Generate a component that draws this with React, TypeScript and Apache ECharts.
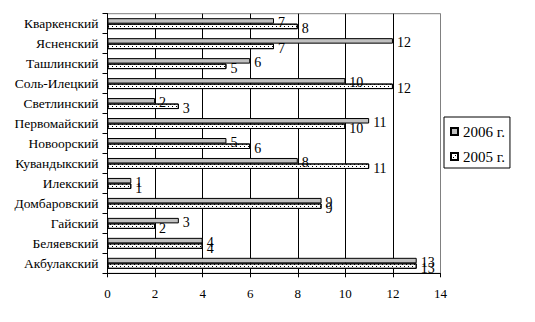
import React, { useEffect, useRef } from "react";
import * as echarts from "echarts";

const categories = [
  "Кваркенский",
  "Ясненский",
  "Ташлинский",
  "Соль-Илецкий",
  "Светлинский",
  "Первомайский",
  "Новоорский",
  "Кувандыкский",
  "Илекский",
  "Домбаровский",
  "Гайский",
  "Беляевский",
  "Акбулакский",
];

const values2006 = [7, 12, 6, 10, 2, 11, 5, 8, 1, 9, 3, 4, 13];
const values2005 = [8, 7, 5, 12, 3, 10, 6, 11, 1, 9, 2, 4, 13];

const xTicks = { min: 0, max: 14, interval: 2 };

const FONT = "Liberation Serif";

export default function App() {
  const ref = useRef<HTMLDivElement>(null);

  useEffect(() => {
    if (!ref.current) return;
    const chart = echarts.init(ref.current, null, { renderer: "svg" });

    const valueLabel = {
      show: true,
      position: "right",
      distance: 4,
      offset: [0, 2],
      color: "#000",
      fontFamily: FONT,
      fontSize: 14,
    };

    chart.setOption({
      animation: false,
      backgroundColor: "#fff",
      textStyle: { fontFamily: FONT },
      grid: {
        left: 107.5,
        right: 94.5,
        top: 13.7,
        bottom: 48.7,
        show: true,
        borderColor: "#808080",
        borderWidth: 1,
        backgroundColor: "transparent",
      },
      legend: {
        orient: "vertical",
        left: 444,
        top: 117,
        data: ["2006 г.", "2005 г."],
        itemWidth: 7,
        itemHeight: 7,
        itemGap: 10,
        itemTextGap: 6,
        padding: [7, 5, 4, 6],
        borderColor: "#000",
        borderWidth: 1,
        icon: "rect",
        textStyle: { fontFamily: FONT, fontSize: 15, color: "#000" },
      },
      xAxis: {
        type: "value",
        min: xTicks.min,
        max: xTicks.max,
        interval: xTicks.interval,
        axisLine: { show: true, lineStyle: { color: "#000", width: 1 } },
        axisTick: { show: true, length: 4, lineStyle: { color: "#000" } },
        axisLabel: { color: "#000", fontFamily: FONT, fontSize: 13, margin: 14 },
        splitLine: {
          show: true,
          lineStyle: {
            color: ["#000", "#000", "#000", "#000", "#000", "#000", "#000", "#808080"],
            width: 1,
          },
        },
      },
      yAxis: {
        type: "category",
        inverse: true,
        data: categories,
        axisLine: { show: true, lineStyle: { color: "#000", width: 1 } },
        axisTick: { show: true, length: 5, lineStyle: { color: "#000" } },
        axisLabel: { color: "#000", fontFamily: FONT, fontSize: 13.5, margin: 9 },
        splitLine: { show: false },
      },
      series: [
        {
          name: "2006 г.",
          type: "bar",
          data: values2006,
          barWidth: 5.5,
          barGap: "0%",
          itemStyle: { color: "#c0c0c0", borderColor: "#000", borderWidth: 1 },
          label: valueLabel,
        },
        {
          name: "2005 г.",
          type: "bar",
          data: values2005,
          barWidth: 5.5,
          barGap: "0%",
          itemStyle: {
            color: "#fff",
            borderColor: "#000",
            borderWidth: 1,
            decal: {
              symbol: "rect",
              symbolSize: 1,
              color: "#000",
              backgroundColor: "#fff",
              dashArrayX: [
                [1, 3],
                [0, 2, 1, 1],
              ],
              dashArrayY: [1, 1],
              rotation: 0,
            },
          },
          label: valueLabel,
        },
      ],
    });

    return () => chart.dispose();
  }, []);

  return (
    <div
      ref={ref}
      style={{ position: "fixed", left: 0, top: 0, width: 535, height: 322 }}
    />
  );
}
